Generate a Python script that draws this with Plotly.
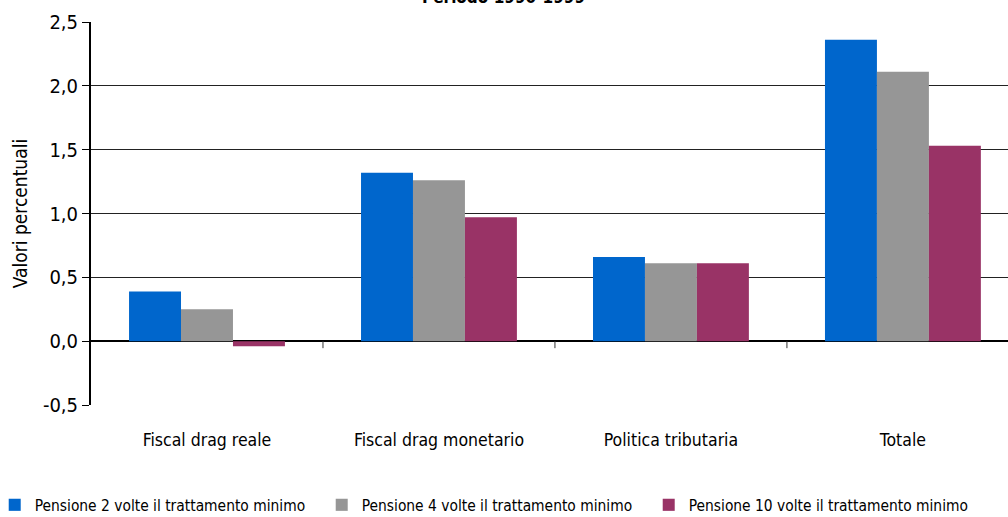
import plotly.graph_objects as go

categories = ["Fiscal drag reale", "Fiscal drag monetario", "Politica tributaria", "Totale"]
series_names = [
    "Pensione 2 volte il trattamento minimo",
    "Pensione 4 volte il trattamento minimo",
    "Pensione 10 volte il trattamento minimo",
]
values_2x = [0.39, 1.32, 0.66, 2.36]
values_4x = [0.25, 1.26, 0.61, 2.11]
values_10x = [-0.04, 0.97, 0.61, 1.53]
colors = ["#0066CC", "#969696", "#993366"]
y_ticks = [-0.5, 0.0, 0.5, 1.0, 1.5, 2.0, 2.5]
y_tick_labels = ["-0,5", "0,0", "0,5", "1,0", "1,5", "2,0", "2,5"]
title_text = "Periodo 1990-1999"
y_title = "Valori percentuali"

FONT = "DejaVu Sans Condensed, Liberation Sans Narrow, Arial Narrow, sans-serif"

fig = go.Figure()
for name, vals, col in zip(series_names, [values_2x, values_4x, values_10x], colors):
    fig.add_trace(go.Bar(
        x=list(range(len(categories))), y=vals, name=name,
        marker=dict(color=col, line=dict(width=0)),
    ))

# category boundary ticks on the zero line
for i in range(len(categories) - 1):
    fig.add_shape(type="line", xref="x", yref="y", x0=i + 0.5, x1=i + 0.5,
                  ysizemode="pixel", yanchor=0, y0=0, y1=-7,
                  line=dict(color="#333333", width=1))

fig.add_annotation(text="<b>" + title_text + "</b>", xref="paper", yref="paper",
                   x=0.45, y=1, yanchor="bottom", yshift=13, showarrow=False,
                   font=dict(family=FONT, size=17, color="#000000"))

fig.update_layout(
    width=1008, height=517,
    margin=dict(l=91, r=0, t=22, b=112, autoexpand=False),
    paper_bgcolor="white", plot_bgcolor="white",
    barmode="group", bargap=0.328, bargroupgap=0,
    font=dict(family=FONT, size=16, color="#000000"),
    showlegend=True,
    legend=dict(orientation="h", xref="paper", x=-0.105, xanchor="left",
                yref="paper", y=-0.262, yanchor="middle",
                font=dict(family=FONT, size=15.4),
                itemwidth=30, tracegroupgap=0, traceorder="normal",
                entrywidth=282, entrywidthmode="pixels"),
    xaxis=dict(range=[-0.5, 3.453], tickmode="array",
               tickvals=list(range(len(categories))), ticktext=categories,
               showgrid=False, zeroline=False, showline=False, ticks="",
               ticklabelstandoff=22,
               tickfont=dict(family=FONT, size=17.5), automargin=False),
    yaxis=dict(range=[-0.5, 2.5], tickmode="array", tickvals=y_ticks,
               ticktext=y_tick_labels, automargin=False,
               showgrid=True, gridcolor="#222222", gridwidth=1,
               zeroline=True, zerolinecolor="#000000", zerolinewidth=1.5,
               showline=True, linecolor="#000000", linewidth=2,
               ticks="outside", ticklen=7, tickcolor="#000000",
               tickfont=dict(family=FONT, size=20),
               title=dict(text=y_title, font=dict(family=FONT, size=19), standoff=10)),
)

fig.write_html("out.html", config={"displayModeBar": False},
               post_script="document.body.style.margin='0';document.body.style.overflow='hidden';")
